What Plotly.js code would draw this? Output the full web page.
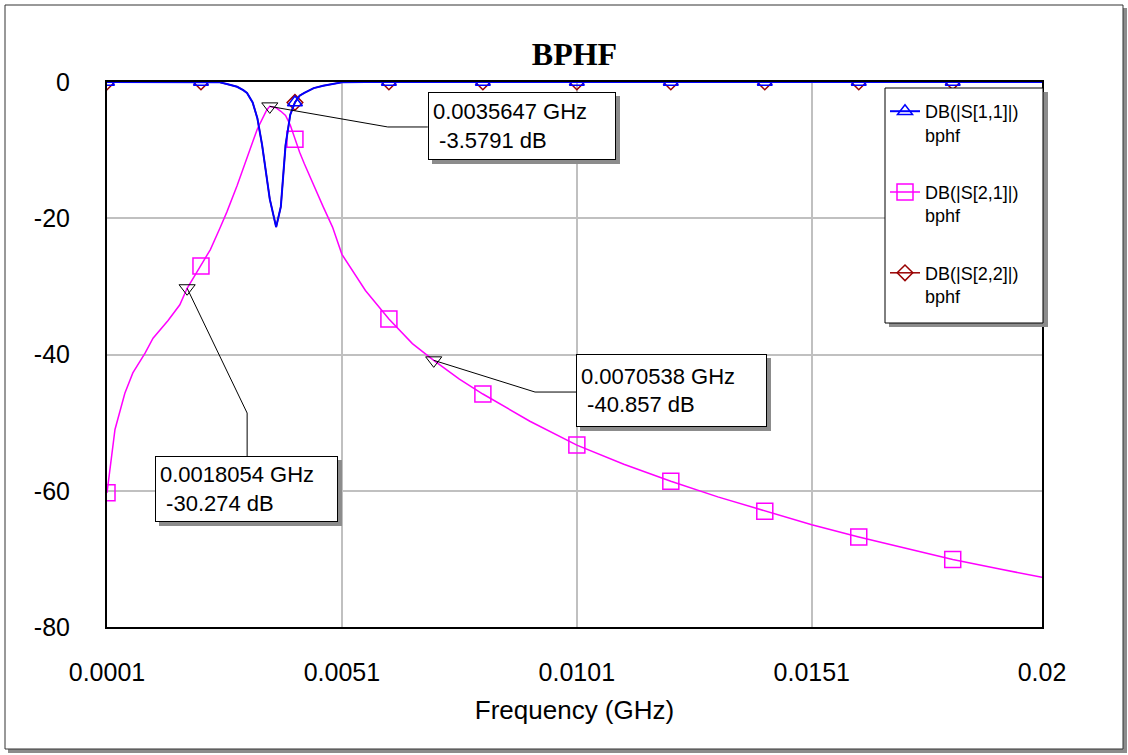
<!DOCTYPE html>
<html><head><meta charset="utf-8">
<script src="https://cdn.plot.ly/plotly-3.0.1.min.js"></script>
<style>html,body{margin:0;padding:0;background:#fff}#chart{width:1128px;height:755px}</style>
</head><body><div id="chart"></div>
<script>
// ---- data ----
const freq = [0.0001,0.00019,0.00027,0.00048,0.00065,0.00091,0.00108,0.0014,0.00165,0.0018054,
  0.0021,0.0023,0.0025,0.00265,0.00287,0.003,0.00308,0.0032,0.0033,0.0034,0.0035,0.0035647,
  0.0037,0.0038,0.0039,0.004,0.0041,0.0042,0.0043,0.0045,0.0047,0.0049,0.0051,0.0056,0.0061,
  0.0066,0.0070538,0.0076,0.0081,0.0091,0.0101,0.0111,0.0121,0.0131,0.0141,0.0151,0.0161,
  0.0171,0.0181,0.0191,0.02];
const s21 = [-60.3,-55,-51,-45.7,-42.7,-39.8,-37.6,-35,-32.7,-30.274,
  -27,-24.6,-21.5,-19.1,-15.2,-12.8,-11.2,-8.8,-6.9,-5.5,-4.1,-3.579,
  -3.8,-4.3,-4.9,-6.3,-8.4,-10.3,-12.0,-15.2,-18.3,-21.3,-25.3,-30.6,-34.8,
  -38.4,-40.857,-43.6,-45.8,-49.8,-53.3,-56.1,-58.6,-60.9,-63.0,-65.0,-66.8,
  -68.5,-70.1,-71.5,-72.7];
const s11 = [0,0,0,0,0,0,0,0,0,0,
  0,0,-0.05,-0.3,-0.7,-1.2,-1.6,-3.0,-5.3,-9.2,-14.0,-17.2,
  -21.3,-18.3,-9.3,-4.8,-3.0,-2.0,-1.6,-0.9,-0.55,-0.25,-0.05,0,0,
  0,0,0,0,0,0,0,0,0,0,0,0,
  0,0,0,0];
const s22 = [0,0,0,0,0,0,0,0,0,0,
  0,0,-0.05,-0.3,-0.7,-1.2,-1.6,-3.0,-5.3,-9.2,-14.0,-17.2,
  -21.3,-18.3,-9.3,-4.8,-3.0,-2.0,-1.6,-0.9,-0.55,-0.25,-0.05,0,0,
  0,0,0,0,0,0,0,0,0,0,0,0,
  0,0,0,0];
const markerFreq = [0.0001,0.0021,0.0041,0.0061,0.0081,0.0101,0.0121,0.0141,0.0161,0.0181];
const calloutFreq = [0.0035647,0.0018054,0.0070538];
const calloutDb = [-3.5791,-30.274,-40.857];
const seriesNames = ['DB(|S[1,1]|)<br>bphf','DB(|S[2,1]|)<br>bphf','DB(|S[2,2]|)<br>bphf'];
const xTickVals = [0.0001,0.0051,0.0101,0.0151,0.02];
const xTickText = ['0.0001','0.0051','0.0101','0.0151','0.02'];
const yTickVals = [0,-20,-40,-60,-80];
const yTickText = ['0','-20','-40','-60','-80'];

// ---- layout helpers (pixel -> paper) ----
const PL=107, PR=1042, PT=82, PB=627;
const px = x => (x-PL)/(PR-PL);
const py = y => (PB-y)/(PB-PT);

const markIdx = markerFreq.map(f => freq.findIndex(v => Math.abs(v-f) < 1e-9));
const FONT = 'Liberation Sans, Arial, sans-serif';

function series(y, name, rank, color, symbol, size, lw){
  return {x:freq, y:y, name:name, legendrank:rank, legendgroup:'g'+rank,
    mode:'lines+markers', line:{color:color, width:lw},
    marker:{symbol:symbol, size:size, color:color, line:{color:color, width:1.5}},
    selectedpoints: markIdx, selected:{marker:{opacity:1}}, unselected:{marker:{opacity:0}},
    hoverinfo:'skip'};
}
const traces = [
  series(s22, seriesNames[2], 3, '#990000', 'diamond-open', 12, 1.5),
  series(s21, seriesNames[1], 2, '#FF00FF', 'square-open', 16, 1.5),
  series(s11, seriesNames[0], 1, '#0000FF', 'triangle-up-open', 13, 2),
  {x:calloutFreq, y:calloutDb, mode:'markers', showlegend:false, hoverinfo:'skip',
   marker:{symbol:'triangle-down-open', size:14, color:'black', line:{color:'black', width:1}}}
];

// callout boxes: offsets in pixels from the marked point
const boxes = [
  {dx:158, dy:14.4, w:188, h:68, bend:[118,-20.6], end:[158,-20.6]},
  {dx:-32, dy:-167.8, w:183, h:66, bend:[60,-124.8], end:[60,-167.8]},
  {dx:142, dy:6.3, w:191, h:73, bend:[101.3,-31.7], end:[142.3,-31.7]}
];
const annotations = [];
const shapes = [
  {type:'rect', xref:'paper', yref:'paper', x0:px(8), x1:px(1127), y0:py(753), y1:py(8),
   fillcolor:'#8c8c8c', line:{width:0}, layer:'below'},
  {type:'rect', xref:'paper', yref:'paper', x0:px(5), x1:px(1123), y0:py(749), y1:py(5),
   fillcolor:'white', line:{color:'#333', width:1}, layer:'below'},
  // legend box shadow and frame
  {type:'rect', xref:'paper', yref:'paper', x0:px(889), x1:px(1048), y0:py(327), y1:py(92),
   fillcolor:'#8c8c8c', line:{width:0}, layer:'above'},
  {type:'rect', xref:'paper', yref:'paper', x0:px(885), x1:px(1043), y0:py(323), y1:py(88),
   fillcolor:'white', line:{color:'black', width:1}, layer:'above'}
];
boxes.forEach((b,i) => {
  const txt = String(calloutFreq[i]) + ' GHz<br>\u00A0' + String(calloutDb[i]) + ' dB';
  annotations.push({x:calloutFreq[i], y:calloutDb[i], xref:'x', yref:'y', showarrow:false,
    xanchor:'left', yanchor:'top', xshift:b.dx+4, yshift:b.dy-4, text:'\u00A0',
    width:b.w-8, height:b.h-8, borderpad:4, borderwidth:0, bgcolor:'#8c8c8c'});
  annotations.push({x:calloutFreq[i], y:calloutDb[i], xref:'x', yref:'y', showarrow:false,
    xanchor:'left', yanchor:'top', xshift:b.dx, yshift:b.dy, text:txt, align:'left', valign:'middle',
    width:b.w-10, height:b.h-10, borderpad:4, borderwidth:1, bordercolor:'black', bgcolor:'white',
    font:{family:FONT, size:22, color:'black'}});
  shapes.push({type:'path', xref:'x', yref:'y', xsizemode:'pixel', ysizemode:'pixel',
    xanchor:calloutFreq[i], yanchor:calloutDb[i],
    path:'M0,0 L'+b.bend[0]+','+b.bend[1]+' L'+b.end[0]+','+b.end[1],
    line:{color:'black', width:1}, layer:'above'});
});

const layout = {
  width:1128, height:755, autosize:false,
  margin:{l:PL, r:1128-PR, t:PT, b:755-PB},
  paper_bgcolor:'white', plot_bgcolor:'white',
  title:{text:'BPHF', xref:'paper', x:0.5, xanchor:'center', yref:'container', y:1-54/755, yanchor:'middle',
    font:{family:'Liberation Serif, Times New Roman, serif', size:32, color:'black', weight:'bold'}},
  xaxis:{range:[0.0001,0.02], tickvals:xTickVals, ticktext:xTickText, showgrid:true, gridcolor:'#c0c0c0', gridwidth:2,
    zeroline:false, showline:true, linecolor:'black', linewidth:2, mirror:true, ticks:'', ticklabelstandoff:22,
    tickfont:{family:FONT, size:25, color:'black'}, layer:'below traces', fixedrange:true,
    title:{text:'Frequency (GHz)', font:{family:FONT, size:26, color:'black'}, standoff:16}},
  yaxis:{range:[-80,0], tickvals:yTickVals, ticktext:yTickText, showgrid:true, gridcolor:'#c0c0c0', gridwidth:2,
    zeroline:false, showline:true, linecolor:'black', linewidth:2, mirror:true, ticks:'', ticklabelstandoff:30,
    tickfont:{family:FONT, size:25, color:'black'}, layer:'below traces', fixedrange:true},
  legend:{x:px(885), y:py(93), xanchor:'left', yanchor:'top', bgcolor:'rgba(0,0,0,0)', borderwidth:0,
    font:{family:FONT, size:18, color:'black'}, traceorder:'grouped', tracegroupgap:31, valign:'top', itemwidth:30},
  annotations:annotations, shapes:shapes, hovermode:false
};
Plotly.newPlot('chart', traces, layout, {displayModeBar:false, staticPlot:true});
</script></body></html>
